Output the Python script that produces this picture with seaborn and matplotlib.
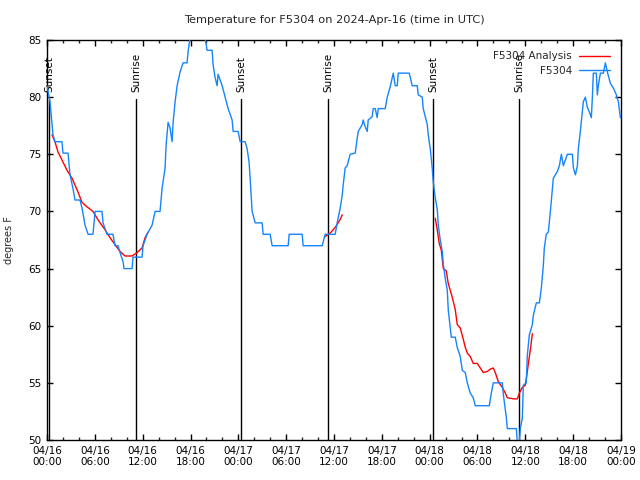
import numpy as np
import pandas as pd
import matplotlib
matplotlib.use("Agg")
import matplotlib.pyplot as plt
from matplotlib.lines import Line2D
import seaborn as sns

# ---- data (hours after 2024-04-16 00:00 UTC) ----
obs_hours = [0.0, 0.38, 0.75, 1.0, 1.88, 2.0, 2.64, 2.89, 3.26, 3.51, 4.14, 4.39, 4.77, 5.15, 5.77,
             6.03, 6.9, 7.03, 7.53, 8.28, 8.53, 8.91, 9.16, 9.54, 9.66, 10.67, 10.79, 11.92, 12.05,
             12.55, 13.18, 13.56, 14.18, 14.43, 14.81, 14.94, 15.19, 15.44, 15.69, 15.82, 16.07,
             16.32, 16.69, 17.07, 17.57, 17.7, 17.95, 18.58, 19.2, 19.83, 20.08, 20.71, 20.84,
             21.09, 21.34, 21.46, 21.97, 22.34, 22.72, 23.22, 23.35, 23.97, 24.23, 24.85, 25.1,
             25.35, 25.48, 25.73, 26.11, 26.99, 27.11, 27.99, 28.24, 30.25, 30.38, 32.01, 32.13,
             34.52, 34.89, 36.15, 36.4, 36.78, 37.03, 37.15, 37.4, 37.65, 38.03, 38.66, 38.91,
             39.04, 39.54, 39.66, 39.92, 40.17, 40.29, 40.79, 40.92, 41.17, 41.42, 41.55, 42.43,
             42.68, 43.05, 43.3, 43.43, 43.68, 43.93, 44.06, 45.44, 45.81, 46.44, 46.57, 47.07,
             47.19, 47.7, 47.82, 48.07, 48.32, 48.45, 48.7, 48.95, 49.08, 49.33, 49.58, 49.71,
             49.96, 50.21, 50.33, 50.71, 51.21, 51.46, 51.84, 52.09, 52.47, 52.72, 53.09, 53.47,
             53.72, 55.48, 55.73, 55.98, 57.11, 57.24, 57.61, 57.74, 58.87, 58.99, 59.25, 59.37,
             59.62, 59.75, 60.12, 60.25, 60.5, 60.88, 61.0, 61.38, 61.76, 62.01, 62.26, 62.38,
             62.63, 62.89, 63.14, 63.39, 63.51, 63.77, 64.02, 64.27, 64.52, 64.77, 65.02, 65.27,
             65.9, 66.03, 66.28, 66.53, 66.65, 66.9, 67.15, 67.28, 67.53, 67.78, 68.03, 68.28,
             68.41, 68.53, 68.91, 69.03, 69.16, 69.41, 69.79, 70.04, 70.29, 70.67, 71.04, 71.42,
             71.67, 71.92]
obs_temp = [81.0, 79.6, 76.7, 76.1, 76.1, 75.1, 75.1, 73.2, 72.0, 71.0, 71.0, 70.3, 68.8, 68.0, 68.0,
            70.0, 70.0, 69.0, 68.0, 68.0, 67.0, 67.0, 66.4, 65.6, 65.0, 65.0, 66.0, 66.0, 67.0,
            68.0, 68.8, 70.0, 70.0, 72.0, 73.8, 75.8, 77.8, 77.3, 76.1, 77.8, 79.6,
            81.0, 82.2, 83.0, 83.0, 84.0, 85.2, 86.0, 86.0, 85.2, 84.1, 84.1, 82.8,
            81.7, 81.0, 82.0, 81.0, 80.0, 79.0, 78.0, 77.0, 77.0, 76.1, 76.1, 75.5,
            74.3, 72.9, 70.0, 69.0, 69.0, 68.0, 68.0, 67.0, 67.0, 68.0, 68.0, 67.0,
            67.0, 68.0, 68.0, 69.0, 70.3, 71.4, 72.3, 73.8, 74.0, 75.0, 75.1, 76.4,
            77.0, 77.6, 78.0, 77.4, 77.0, 78.0, 78.3, 79.0, 79.0, 78.2, 79.0, 79.0,
            80.0, 80.9, 81.7, 82.1, 81.0, 81.0, 82.1, 82.1, 81.0, 81.0, 80.2, 80.0,
            79.0, 77.6, 76.7, 75.5, 73.8, 72.6, 71.2, 70.2, 68.8, 67.5, 66.5, 65.4,
            64.1, 63.1, 61.4, 59.0, 59.0, 58.1, 57.3, 56.1, 55.9, 55.0, 54.1, 53.7,
            53.0, 53.0, 54.1, 55.0, 55.0, 54.0, 52.0, 51.0, 51.0, 49.8, 49.8, 51.0,
            51.9, 54.8, 55.0, 57.4, 59.2, 60.1, 60.9, 62.0, 62.0, 63.3, 65.3, 66.8,
            68.0, 68.2, 70.0, 72.0, 72.9, 73.2, 73.5, 74.0, 75.0, 74.0, 74.5, 75.0,
            75.0, 73.8, 73.2, 74.0, 75.5, 77.0, 78.7, 79.6, 80.0, 79.1, 78.7, 78.2,
            80.0, 82.1, 82.1, 80.2, 81.0, 82.1, 82.1, 83.0, 82.2, 81.2, 80.8, 80.2,
            79.6, 78.2]

ana_hours = [0.63, 1.0, 1.38, 1.88, 2.51, 3.14, 3.77, 4.39, 5.02, 5.77, 6.28, 6.65, 7.28, 7.91,
             8.53, 9.16, 9.79, 10.67, 11.3, 11.92, 12.3, 12.68,
             34.89, 35.52, 36.15, 36.78, 37.03,
             48.7, 48.95, 49.2, 49.46, 49.71, 50.08, 50.33, 50.83, 51.21, 51.46, 51.84, 52.22,
             52.47, 52.72, 53.09, 53.47, 53.97, 54.35, 54.73, 55.23, 55.6, 55.98, 56.23, 56.61,
             57.11, 57.49, 57.74, 58.49, 58.99, 59.25, 59.62, 60.0, 60.25, 60.38, 60.63, 60.88]
ana_temp = [76.7, 76.1, 75.2, 74.5, 73.6, 72.9, 71.9, 70.8, 70.4, 70.0, 69.4, 69.0, 68.4, 67.7,
            67.1, 66.5, 66.1, 66.1, 66.4, 66.8, 67.7, 68.2,
            67.8, 68.1, 68.6, 69.3, 69.7,
            69.4, 68.4, 67.2, 66.6, 65.0, 64.8, 63.7, 62.5, 61.4, 60.1, 59.8, 58.8,
            58.1, 57.6, 57.3, 56.7, 56.7, 56.3, 55.9, 56.0, 56.2, 56.3, 55.9, 55.1,
            54.6, 54.1, 53.7, 53.6, 53.6, 54.1, 54.6, 54.8, 56.0, 56.7, 57.9, 59.3]
ana_segment = [1] * 22 + [2] * 5 + [3] * 36

sun_hours = [0.29, 11.2, 24.34, 35.25, 48.48, 59.25]
sun_labels = ["Sunset", "Sunrise", "Sunset", "Sunrise", "Sunset", "Sunrise"]

xtick_hours = [0, 6, 12, 18, 24, 30, 36, 42, 48, 54, 60, 66, 72]
xtick_labels = ["04/16\n00:00", "04/16\n06:00", "04/16\n12:00", "04/16\n18:00",
                "04/17\n00:00", "04/17\n06:00", "04/17\n12:00", "04/17\n18:00",
                "04/18\n00:00", "04/18\n06:00", "04/18\n12:00", "04/18\n18:00",
                "04/19\n00:00"]
ytick_values = [50, 55, 60, 65, 70, 75, 80, 85]

title = "Temperature for F5304 on 2024-Apr-16 (time in UTC)"
ylabel = "degrees F"
name_obs = "F5304"
name_ana = "F5304 Analysis"

# ---- plotting ----
sns.set_style("white")
plt.rcParams["font.family"] = ["DejaVu Sans"]
FS = 7.5
BLUE = "#1484ff"
RED = "#ff0000"

fig = plt.figure(figsize=(6.4, 4.8), dpi=100)
ax = fig.add_axes([47 / 640, 40 / 480, 574 / 640, 400 / 480])

obs_df = pd.DataFrame({"hour": obs_hours, "temp": obs_temp})
ana_df = pd.DataFrame({"hour": ana_hours, "temp": ana_temp, "seg": ana_segment})

for h, lab in zip(sun_hours, sun_labels):
    ax.axvline(h, ymin=0, ymax=0.853, color="black", lw=1.0, zorder=1)
    ax.text(h, 0.87, lab, transform=ax.get_xaxis_transform(), rotation=90,
            ha="center", va="bottom", fontsize=FS, color="black")

sns.lineplot(data=ana_df, x="hour", y="temp", units="seg", estimator=None, sort=False,
             color=RED, lw=1.0, ax=ax, legend=False, zorder=2)
sns.lineplot(data=obs_df, x="hour", y="temp", estimator=None, sort=False,
             color=BLUE, lw=1.0, ax=ax, legend=False, zorder=3)

ax.set_xlim(0, 72)
ax.set_ylim(50, 85)
ax.set_xticks(xtick_hours)
ax.set_xticklabels(xtick_labels, fontsize=FS)
ax.set_xticks(np.arange(0, 73, 2), minor=True)
ax.set_yticks(ytick_values)
ax.set_yticklabels([str(v) for v in ytick_values], fontsize=FS)
ax.tick_params(which="major", direction="in", length=4, width=1, top=True, right=True,
               bottom=True, left=True, pad=4, colors="black")
ax.tick_params(which="minor", direction="in", length=2, width=1, top=True, right=True,
               bottom=True, left=False)
for s in ax.spines.values():
    s.set_color("black")
    s.set_linewidth(1.0)
    s.set_visible(True)

ax.set_xlabel("")
ax.set_ylabel(ylabel, fontsize=7, labelpad=10)
ax.set_title(title, fontsize=8.2, pad=12)

handles = [Line2D([], [], color=RED, lw=1.0), Line2D([], [], color=BLUE, lw=1.0)]
ax.legend(handles, [name_ana, name_obs], loc="upper right", frameon=False, markerfirst=False,
          fontsize=FS, handlelength=2.9, handletextpad=0.7, labelspacing=0.45,
          borderaxespad=0.9, borderpad=0.2)

fig.savefig("out.png", dpi=100)
